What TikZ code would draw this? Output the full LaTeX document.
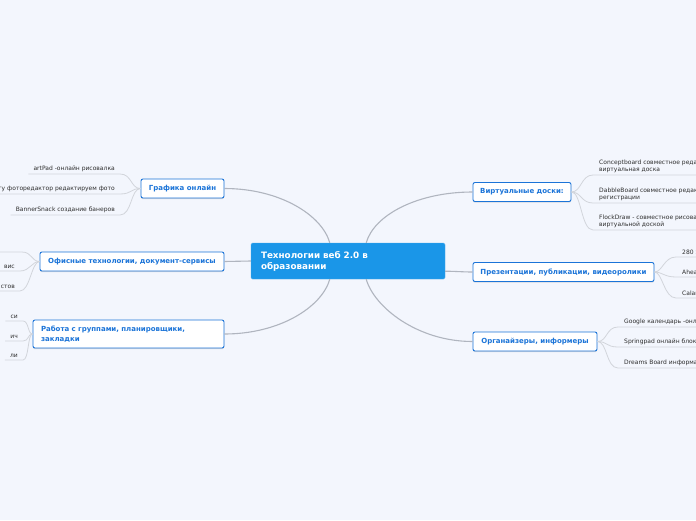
\documentclass[tikz,border=0pt]{standalone}
\usepackage{fontspec}
\setmainfont{DejaVu Sans}
\usetikzlibrary{shadows}
\definecolor{bgcol}{HTML}{F3F6FD}
\definecolor{rootcol}{HTML}{1A96E8}
\definecolor{topiccol}{HTML}{1B74D8}
\definecolor{linkcol}{HTML}{B0B5BF}
\definecolor{leafcol}{HTML}{D2D5DB}
\definecolor{leaftext}{HTML}{2E2E2E}
\tikzset{
  root/.style={fill=rootcol, draw=rootcol!80!white, rounded corners=1.5pt, text=white,
    font=\fontsize{8.8}{11}\selectfont\bfseries, align=left, inner xsep=10pt,
    minimum height=36pt},
  topic/.style={draw=topiccol, fill=white, line width=0.9pt, rounded corners=2pt,
    text=topiccol, font=\fontsize{7}{10}\selectfont\bfseries, minimum height=19pt,
    drop shadow={shadow xshift=0pt, shadow yshift=-1.2pt, opacity=0.25}},
  leafl/.style={anchor=south east, text=leaftext, font=\fontsize{6}{7}\selectfont,
    inner xsep=5pt, inner ysep=2pt, align=right},
  leafr/.style={anchor=south west, text=leaftext, font=\fontsize{6}{7}\selectfont,
    inner xsep=6pt, inner ysep=2pt, align=left},
  link/.style={draw=linkcol, line width=1.1pt},
  leafline/.style={draw=leafcol, line width=0.8pt}
}
\begin{document}
\begin{tikzpicture}[x=1pt,y=-1pt]
\useasboundingbox (0,0) rectangle (696,520);
\clip (0,0) rectangle (696,520);
\fill[bgcol] (0,0) rectangle (696,520);
% central topic
\node[root, minimum width=194pt, text width=174pt] (root) at (348,261)
  {Технологии веб 2.0 в\\образовании};
% main branches
\node[topic, minimum width=83pt] (graf) at (182.5,188.5) {Графика онлайн};
\node[topic, minimum width=184pt] (office) at (132,261.5) {Офисные технологии, документ-сервисы};
\node[topic, minimum width=191pt, minimum height=28pt, text width=175pt, align=left]
  (group) at (128.5,334) {Работа с группами, планировщики,\\закладки};
\node[topic, minimum width=98pt] (virt) at (522,192) {Виртуальные доски:};
\node[topic, minimum width=181pt] (pres) at (563.5,272) {Презентации, публикации, видеоролики};
\node[topic, minimum width=124pt] (org) at (535,341.5) {Органайзеры, информеры};
% links from the centre
\draw[link] (root.135) .. controls +(-8,-28) and +(55,0) .. (graf.east);
\draw[link] (root.west) -- (office.east);
\draw[link] (root.225) .. controls +(-8,28) and +(55,0) .. (group.east);
\draw[link] (root.45) .. controls +(8,-28) and +(-55,0) .. (virt.west);
\draw[link] (root.-6) .. controls +(10,0) and +(-10,0) .. (pres.west);
\draw[link] (root.315) .. controls +(8,28) and +(-55,0) .. (org.west);
% leaves on the left
\foreach \y/\t [count=\i] in {174/{artPad -онлайн рисовалка},
    194/{гу фоторедактор редактируем фото}, 215/{BannerSnack создание банеров}} {
  \node[leafl] (g\i) at (120,\y) {\t};
  \draw[leafline] (g\i.south west) -- (g\i.south east)
    .. controls +(12,0) and +(-10,0) .. (graf.west);
}
\coordinate (o0w) at (-5,252);
\coordinate (o0e) at (22,252);
\draw[leafline] (o0w) -- (o0e) .. controls +(10,0) and +(-8,0) .. (office.west);
\foreach \y/\t [count=\i] in {271/{вис}, 291/{стов}} {
  \node[leafl] (o\i) at (20,\y) {\t};
  \draw[leafline] (o\i.south west) -- (o\i.south east)
    .. controls +(10,0) and +(-8,0) .. (office.west);
}
\foreach \y/\t [count=\i] in {321/{си}, 341/{ич}, 360/{ли}} {
  \node[leafl] (w\i) at (23,\y) {\t};
  \draw[leafline] (w\i.south west) -- (w\i.south east)
    .. controls +(6,0) and +(-5,0) .. (group.west);
}
% leaves on the right
\foreach \y/\t [count=\i] in {175/{Conceptboard совместное редак\\виртуальная доска},
    203/{DabbleBoard совместное редак\\регистрации},
    230/{FlockDraw - совместное рисова\\виртуальной доской}} {
  \node[leafr] (v\i) at (593,\y) {\t};
  \draw[leafline] (v\i.south east) -- (v\i.south west)
    .. controls +(-12,0) and +(10,0) .. (virt.east);
}
\foreach \y/\t [count=\i] in {257/{280 S}, 277/{Ahea}, 298/{Calar}} {
  \node[leafr] (p\i) at (676,\y) {\t};
  \draw[leafline] (p\i.south east) -- (p\i.south west)
    .. controls +(-12,0) and +(8,0) .. (pres.east);
}
\foreach \y/\t [count=\i] in {327/{Google календарь -онл}, 347/{Springpad онлайн блок},
    368/{Dreams Board информа}} {
  \node[leafr] (r\i) at (618,\y) {\t};
  \draw[leafline] (r\i.south east) -- (r\i.south west)
    .. controls +(-12,0) and +(10,0) .. (org.east);
}
\end{tikzpicture}
\end{document}
